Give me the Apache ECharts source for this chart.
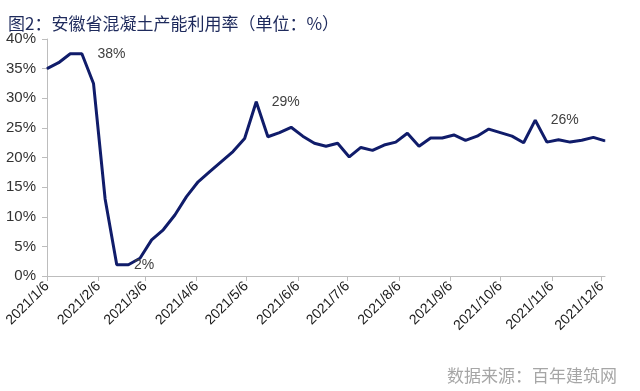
<!DOCTYPE html>
<html><head><meta charset="utf-8">
<script src="https://cdn.jsdelivr.net/npm/echarts@6/dist/echarts.min.js"></script>
<style>html,body{margin:0;padding:0;background:#fff}#c{width:640px;height:391px}</style>
</head><body><div id="c"></div>
<script>
// Weekly observation dates
const dates = ['2021/1/6','2021/1/13','2021/1/20','2021/1/27','2021/2/3','2021/2/10','2021/2/17','2021/2/24',
'2021/3/3','2021/3/10','2021/3/17','2021/3/24','2021/3/31','2021/4/7','2021/4/14','2021/4/21','2021/4/28',
'2021/5/5','2021/5/12','2021/5/19','2021/5/26','2021/6/2','2021/6/9','2021/6/16','2021/6/23','2021/6/30',
'2021/7/7','2021/7/14','2021/7/21','2021/7/28','2021/8/4','2021/8/11','2021/8/18','2021/8/25',
'2021/9/1','2021/9/8','2021/9/15','2021/9/22','2021/9/29','2021/10/6','2021/10/13','2021/10/20','2021/10/27',
'2021/11/3','2021/11/10','2021/11/17','2021/11/24','2021/12/1','2021/12/8'];
// Capacity utilisation (%)
const utilization = [35.0,36.0,37.5,37.5,32.5,13.0,1.9,1.9,3.0,6.1,7.8,10.3,13.4,15.9,17.6,19.3,21.0,23.2,29.4,23.5,24.2,25.1,23.6,22.4,21.9,22.4,20.1,21.7,21.2,22.1,22.6,24.1,21.9,23.3,23.3,23.8,22.9,23.6,24.8,24.2,23.6,22.5,26.3,22.6,23.0,22.6,22.9,23.4,22.8];
// Points with data labels
const labelledIdx = [3, 7, 18, 42];
// X tick labels
const tickLabels = ['2021/1/6','2021/2/6','2021/3/6','2021/4/6','2021/5/6','2021/6/6','2021/7/6','2021/8/6','2021/9/6','2021/10/6','2021/11/6','2021/12/6'];
const axisStart = '2021/1/6', axisEnd = '2021/12/8';

function toTime(s){const p=s.split('/').map(Number);return Date.UTC(p[0],p[1]-1,p[2]);}
function fmt(t){const d=new Date(t);return d.getUTCFullYear()+'/'+(d.getUTCMonth()+1)+'/'+d.getUTCDate();}

const seriesData = utilization.map((v,i)=>{
  const item={value:[toTime(dates[i]),v]};
  if(labelledIdx.includes(i)){
    item.label={show:true,position:'right',distance:i===7?5:15,
      formatter:p=>Math.round(p.value[1])+'%',
      color:'#404040',fontSize:14,fontFamily:'Liberation Sans'};
  }
  return item;
});
const tickTimes = tickLabels.map(toTime);

const chart = echarts.init(document.getElementById('c'),null,{renderer:'canvas'});
chart.setOption({
  animation:false,
  backgroundColor:'#ffffff',
  title:{text:'图2：安徽省混凝土产能利用率（单位：%）',left:3,top:10,
    textStyle:{fontFamily:'Noto Sans CJK SC',fontSize:17,fontWeight:'normal',color:'#1e2a5c'}},
  graphic:[{type:'text',left:447,top:367,style:{text:'数据来源：百年建筑网',font:'17px "Noto Sans CJK SC"',fill:'#a6a6a6'}}],
  grid:{left:47,right:35,top:39,bottom:115,containLabel:false},
  xAxis:{type:'value',min:toTime(axisStart),max:toTime(axisEnd),
    axisLine:{show:true,lineStyle:{color:'#bdbdbd',width:1}},
    axisTick:{show:true,length:5,lineStyle:{color:'#bdbdbd'},customValues:tickTimes},
    axisLabel:{customValues:tickTimes,formatter:v=>fmt(v),rotate:45,margin:8,
      fontFamily:'Liberation Sans',fontSize:14,color:'#1a1a1a'},
    splitLine:{show:false}},
  yAxis:{type:'value',min:0,max:40,interval:5,
    axisLine:{show:true,lineStyle:{color:'#bdbdbd',width:1}},
    axisTick:{show:true,length:5,lineStyle:{color:'#bdbdbd'}},
    axisLabel:{formatter:'{value}%',margin:11,fontFamily:'Liberation Sans',fontSize:15,color:'#333'},
    splitLine:{show:false}},
  series:[{type:'line',data:seriesData,showSymbol:true,symbol:'circle',symbolSize:1,
    lineStyle:{color:'#101c6a',width:3},itemStyle:{color:'#101c6a'},
    label:{show:false},
    labelLayout:{hideOverlap:false}}]
});
</script></body></html>
